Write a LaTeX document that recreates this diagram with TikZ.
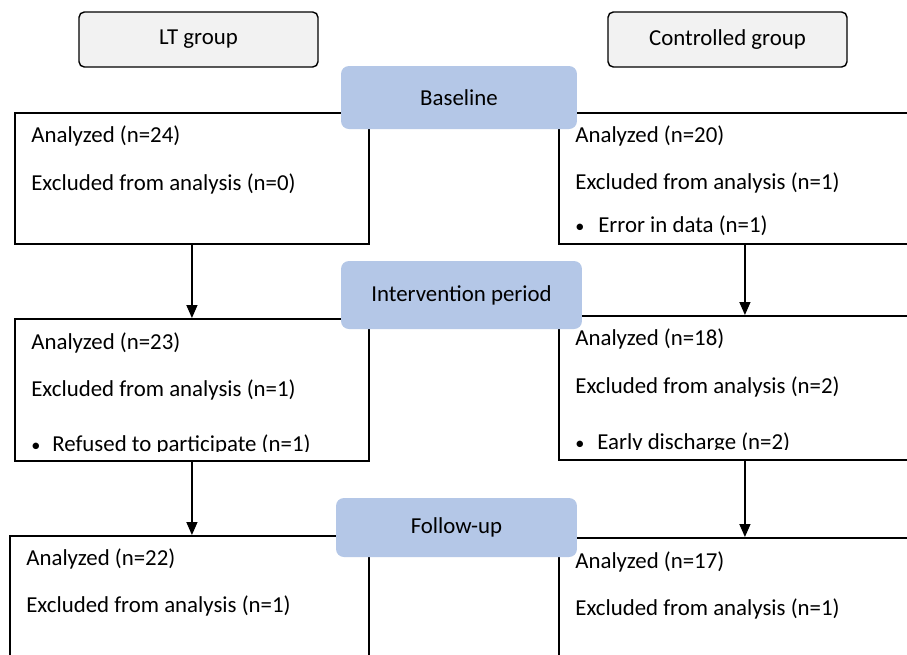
\documentclass[tikz,border=0pt]{standalone}
\usepackage{fontspec}
\setmainfont{Carlito}
\usetikzlibrary{arrows.meta,positioning}
\definecolor{groupgray}{HTML}{F2F2F2}
\definecolor{phaseblue}{HTML}{B4C7E7}
\newcommand{\txt}{\fontsize{13}{15}\selectfont}
\newcommand{\bul}[1]{\makebox[#1][l]{\scalebox{0.8}{\textbullet}}}

\begin{document}
\begin{tikzpicture}[x=0.02cm, y=-0.02cm,
  group/.style={draw, rounded corners=3pt, fill=groupgray, line width=0.8pt, minimum width=4.78cm, minimum height=1.1cm, font=\txt},
  phase/.style={fill=phaseblue, rounded corners=4.5pt, font=\txt},
  record/.style={draw, line width=1.1pt, anchor=north west},
  entry/.style={anchor=west, inner sep=0pt, font=\txt},
  arr/.style={-{Triangle[length=2.6mm,width=2.2mm]}, line width=0.8pt},
]
\clip (0,0) rectangle (907,654);
\fill[white] (0,0) rectangle (907,654);

% group headers
\node[group] (lt) at (198.5,39.5) {LT group};
\node[group] (ctrl) at (727.5,39.5) {Controlled group};

% result boxes
\node[record, minimum width=7.08cm, minimum height=2.62cm] (l1) at (14,112) {};
\node[record, minimum width=7.44cm, minimum height=2.62cm] (r1) at (558,112) {};
\node[record, minimum width=7.08cm, minimum height=2.84cm] (l2) at (14,318) {};
\node[record, minimum width=7.44cm, minimum height=2.88cm] (r2) at (558,315) {};
\node[record, minimum width=7.18cm, minimum height=3cm] (l3) at (9,535) {};
\node[record, minimum width=7.44cm, minimum height=3cm] (r3) at (558,537) {};

% texts
\node[entry] (l1a) at (31,136) {Analyzed (n=24)};
\node[entry] (l1b) at (31,184) {Excluded from analysis (n=0)};
\node[entry] (r1a) at (575,136) {Analyzed (n=20)};
\node[entry] (r1b) at (575,183) {Excluded from analysis (n=1)};
\node[entry] (r1c) at (575,226) {\bul{0.46cm}Error in data (n=1)};
\node[entry] (l2a) at (31,343) {Analyzed (n=23)};
\node[entry] (l2b) at (31,390) {Excluded from analysis (n=1)};
\node[entry] (r2a) at (575,339) {Analyzed (n=18)};
\node[entry] (r2b) at (575,387) {Excluded from analysis (n=2)};
\begin{scope}
  \clip (14,318) rectangle (368,451);
  \node[entry] (l2c) at (31,445) {\bul{0.42cm}Refused to participate (n=1)};
\end{scope}
\begin{scope}
  \clip (558,315) rectangle (907,449);
  \node[entry] (r2c) at (575,443) {\bul{0.44cm}Early discharge (n=2)};
\end{scope}
\node[entry] (l3a) at (26,559) {Analyzed (n=22)};
\node[entry] (l3b) at (26,606) {Excluded from analysis (n=1)};
\node[entry] (r3a) at (575,562) {Analyzed (n=17)};
\node[entry] (r3b) at (575,609) {Excluded from analysis (n=1)};

% phases
\node[phase, minimum width=4.72cm, minimum height=1.26cm] (base) at (459,97.5) {Baseline};
\node[phase, minimum width=4.82cm, minimum height=1.36cm] (inter) at (461.5,295) {Intervention period};
\node[phase, minimum width=4.82cm, minimum height=1.18cm] (follow) at (456.5,527.5) {Follow-up};

% arrows
\draw[arr] (l1.south) -- (l1.south |- l2.north);
\draw[arr] (r1.south) -- (r1.south |- r2.north);
\draw[arr] (l2.south) -- (l2.south |- l3.north);
\draw[arr] (r2.south) -- (r2.south |- r3.north);
\end{tikzpicture}
\end{document}
